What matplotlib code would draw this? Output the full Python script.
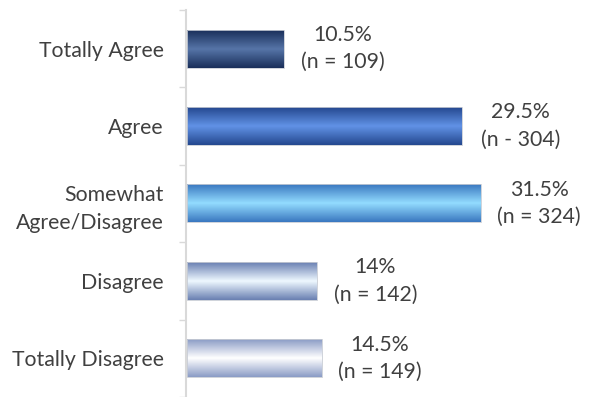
import matplotlib
matplotlib.use("Agg")
import matplotlib.pyplot as plt
import numpy as np
from matplotlib.colors import LinearSegmentedColormap

categories = ["Totally Agree", "Agree", "Somewhat\nAgree/Disagree", "Disagree", "Totally Disagree"]
values = [10.5, 29.5, 31.5, 14, 14.5]
pct_labels = ["10.5%", "29.5%", "31.5%", "14%", "14.5%"]
n_labels = ["(n = 109)", "(n - 304)", "(n = 324)", "(n = 142)", "(n = 149)"]

# (edge color, center color) of vertical gradient for each bar
bar_colors = [
    ("#1a2f5a", "#5675a8"),
    ("#24488f", "#6192e6"),
    ("#3a78c0", "#93dcff"),
    ("#6a80b2", "#eef8ff"),
    ("#8b9cc6", "#ffffff"),
]

plt.rcParams['font.family'] = ['Lato', 'DejaVu Sans']

fig = plt.figure(figsize=(5.91, 3.97), dpi=100)
ax = fig.add_axes([0.3147, 0.0, 0.633, 0.975])

h = 0.49
ax.set_xlim(0, 40)
ax.set_ylim(4.5, -0.5)

for i, (v, (c_edge, c_mid)) in enumerate(zip(values, bar_colors)):
    cmap = LinearSegmentedColormap.from_list("g", [c_edge, c_mid, c_edge])
    grad = np.linspace(0, 1, 100).reshape(-1, 1)
    ax.imshow(grad, cmap=cmap, aspect='auto', extent=[0.15, v, i + h / 2, i - h / 2],
              interpolation='bilinear', zorder=2)
    ax.barh(i, v - 0.15, left=0.15, height=h, facecolor='none', edgecolor='#c8ccd4', linewidth=0.6, zorder=3)
    ax.annotate(pct_labels[i] + "\n" + n_labels[i], xy=(v, i), xytext=(42, 0),
                textcoords='offset points', ha='center', va='center',
                fontsize=15.3, color='#404040', linespacing=1.45)

ax.set_xlim(0, 40)
ax.set_ylim(4.5, -0.5)

ax.set_yticks(range(len(categories)))
ax.set_yticklabels(categories, fontsize=15.3, color='#404040', linespacing=1.45)
ax.tick_params(axis='y', which='major', length=0, pad=16)
ax.set_yticks(np.arange(-0.5, 4.6, 1.0), minor=True)
ax.tick_params(axis='y', which='minor', length=5, width=1, color='#d9d9d9')
ax.set_xticks([])

for s in ['top', 'right', 'bottom']:
    ax.spines[s].set_visible(False)
ax.spines['left'].set_color('#d9d9d9')
ax.spines['left'].set_linewidth(1.5)

fig.savefig("out.png", dpi=100)
